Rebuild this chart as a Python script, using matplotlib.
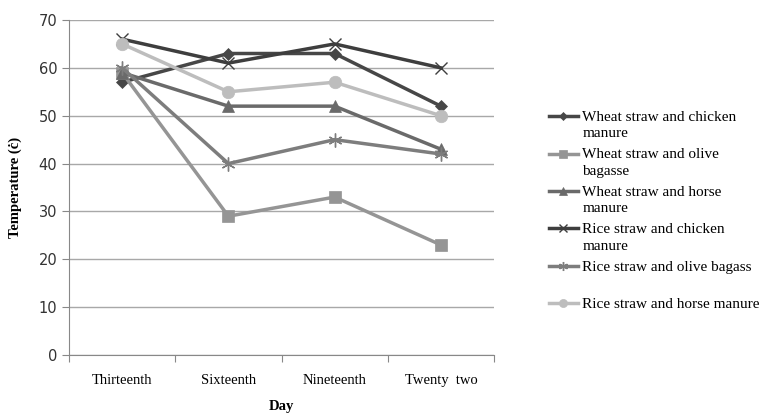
import numpy as np
import matplotlib.pyplot as plt

days = ["Thirteenth", "Sixteenth", "Nineteenth", "Twenty  two"]
wheat_chicken = [57, 63, 63, 52]
wheat_olive = [59, 29, 33, 23]
wheat_horse = [59, 52, 52, 43]
rice_chicken = [66, 61, 65, 60]
rice_olive = [60, 40, 45, 42]
rice_horse = [65, 55, 57, 50]

etichette = ["Wheat straw and chicken\nmanure", "Wheat straw and olive\nbagasse",
             "Wheat straw and horse\nmanure", "Rice straw and chicken\nmanure",
             "Rice straw and olive bagass\n ", "Rice straw and horse manure"]

serie = [wheat_chicken, wheat_olive, wheat_horse, rice_chicken, rice_olive, rice_horse]
colori = ["#474747", "#959595", "#6a6a6a", "#3e3e3e", "#7d7d7d", "#bdbdbd"]
marker = ["D", "s", "^", "x", (6, 2, 0), "o"]
msize = [6, 8, 8, 9, 10, 9]

fig = plt.figure(figsize=(7.61, 4.17), dpi=100)
ax = fig.add_axes([69/761, 62/417, 425/761, 335/417])

x = np.arange(len(days)) + 0.5
linee = []
for s, c, m, ms, lab in zip(serie, colori, marker, msize, etichette):
    sottile = m == "x" or isinstance(m, tuple)
    l, = ax.plot(x, s, color=c, marker=m, markersize=ms, linewidth=2.5,
                 markeredgecolor=c, markeredgewidth=1 if sottile else 0.5, label=lab)
    linee.append(l)

ax.set_xlim(0, 4)
ax.set_ylim(0, 70)
ax.set_yticks(range(0, 71, 10))
ax.yaxis.grid(True, color="#a8a8a8", linewidth=1)
ax.set_axisbelow(True)
ax.set_xticks([0, 1, 2, 3, 4])
ax.set_xticklabels([])
ax.set_xticks(x, minor=True)
ax.set_xticklabels(days, minor=True, family="Liberation Serif", fontsize=10.5)
ax.tick_params(axis="x", which="minor", length=0, pad=14)
ax.tick_params(axis="x", which="major", length=5, color="#888888")
ax.tick_params(axis="y", length=5, color="#888888", labelsize=10.5, labelcolor="#333333")
for sp in ["top", "right"]:
    ax.spines[sp].set_visible(False)
for sp in ["left", "bottom"]:
    ax.spines[sp].set_color("#888888")

ax.set_ylabel("Temperature (ċ)", family="Liberation Serif", fontweight="bold", fontsize=10.5, labelpad=12)
ax.set_xlabel("Day", family="Liberation Serif", fontweight="bold", fontsize=10.5, labelpad=9)

leg = fig.legend(handles=linee, loc="upper left", bbox_to_anchor=(535/761, 1 - 97/417),
                 frameon=False, prop={"family": "Liberation Serif", "size": 11},
                 handlelength=1.9, labelspacing=0.52, handletextpad=0.3, markerscale=0.65)
for t in leg.get_texts():
    t.set_linespacing(1.35)
# handle allineato alla prima riga del testo
for col in leg._legend_handle_box.get_children():
    for riga in col.get_children():
        riga.align = "top"

plt.savefig("out.png")
